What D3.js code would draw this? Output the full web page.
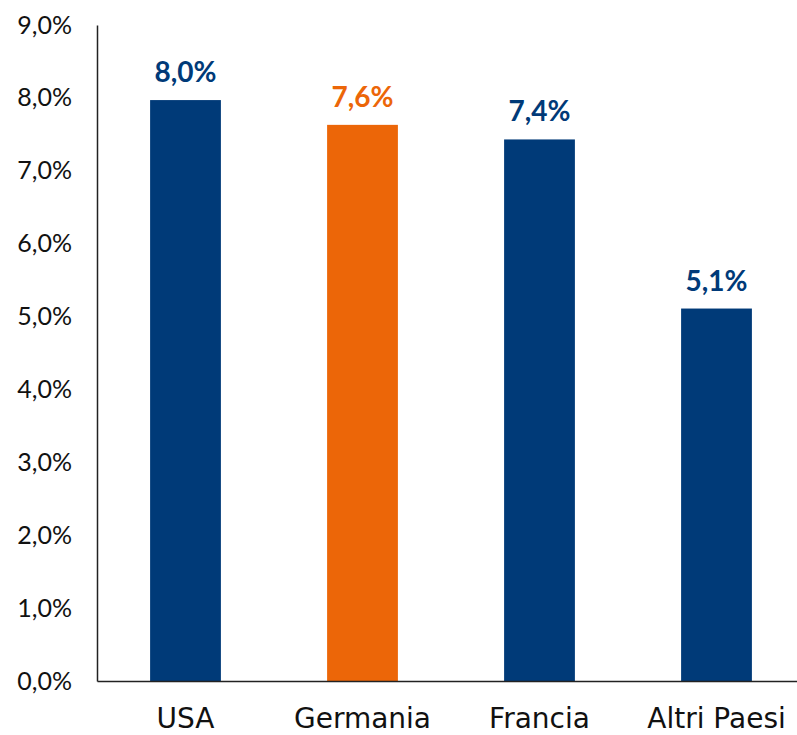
<!DOCTYPE html>
<html>
<head>
<meta charset="utf-8">
<script src="https://cdn.jsdelivr.net/npm/d3@7"></script>
<style>
  body { margin: 0; background: #fff; }
  svg text { font-family: Lato, "DejaVu Sans", sans-serif; }
</style>
</head>
<body>
<div id="chart"></div>
<script>
// data
var categories = ["USA", "Germania", "Francia", "Altri Paesi"];
var values = [7.97, 7.63, 7.43, 5.11];
var highlight = ["Germania"];
var yTicks = [0, 1, 2, 3, 4, 5, 6, 7, 8, 9];

var W = 797, H = 735;
var blue = "#003a78", orange = "#ec6608";

var svg = d3.select("#chart").append("svg")
  .attr("width", W).attr("height", H);

// scales
var x = d3.scaleBand()
  .domain(categories)
  .range([97, 805])
  .paddingInner(0.6)
  .paddingOuter(0.3);
var y = d3.scaleLinear().domain([0, 9]).range([681, 25]);

function fmt(v) { return v.toFixed(1).replace(".", ",") + "%"; }

// bars
svg.selectAll("rect.bar").data(values).enter().append("rect")
  .attr("class", "bar")
  .attr("x", function (d, i) { return x(categories[i]); })
  .attr("width", x.bandwidth())
  .attr("y", function (d) { return y(d); })
  .attr("height", function (d) { return y(0) - y(d); })
  .attr("fill", function (d, i) { return highlight.indexOf(categories[i]) >= 0 ? orange : blue; });

// value labels
svg.selectAll("text.val").data(values).enter().append("text")
  .attr("class", "val")
  .attr("x", function (d, i) { return x(categories[i]) + x.bandwidth() / 2; })
  .attr("y", function (d) { return y(d) - 18; })
  .attr("text-anchor", "middle")
  .style("font-size", "28px")
  .style("font-weight", "bold")
  .style("fill", function (d, i) { return highlight.indexOf(categories[i]) >= 0 ? orange : blue; })
  .text(function (d) { return fmt(d); });

// y axis
var yAxisG = svg.append("g")
  .attr("transform", "translate(97,0)")
  .call(d3.axisLeft(y).tickValues(yTicks).tickSize(0).tickPadding(25)
    .tickFormat(function (d) { return d.toFixed(1).replace(".", ",") + "%"; }));
yAxisG.select(".domain").attr("stroke", "#222").attr("stroke-width", 1.5);
yAxisG.selectAll("text").style("font-size", "25px").style("fill", "#111")
  .attr("font-family", null);

// x axis
var xAxisG = svg.append("g")
  .attr("transform", "translate(0,681)")
  .call(d3.axisBottom(x).tickSize(0).tickPadding(27));
xAxisG.select(".domain").attr("stroke", "#222").attr("stroke-width", 1.5);
xAxisG.selectAll("text").style("font-size", "28px").style("fill", "#111")
  .style("font-family", "'DejaVu Sans', sans-serif")
  .attr("font-family", null).attr("dy", "0.71em");
</script>
</body>
</html>
